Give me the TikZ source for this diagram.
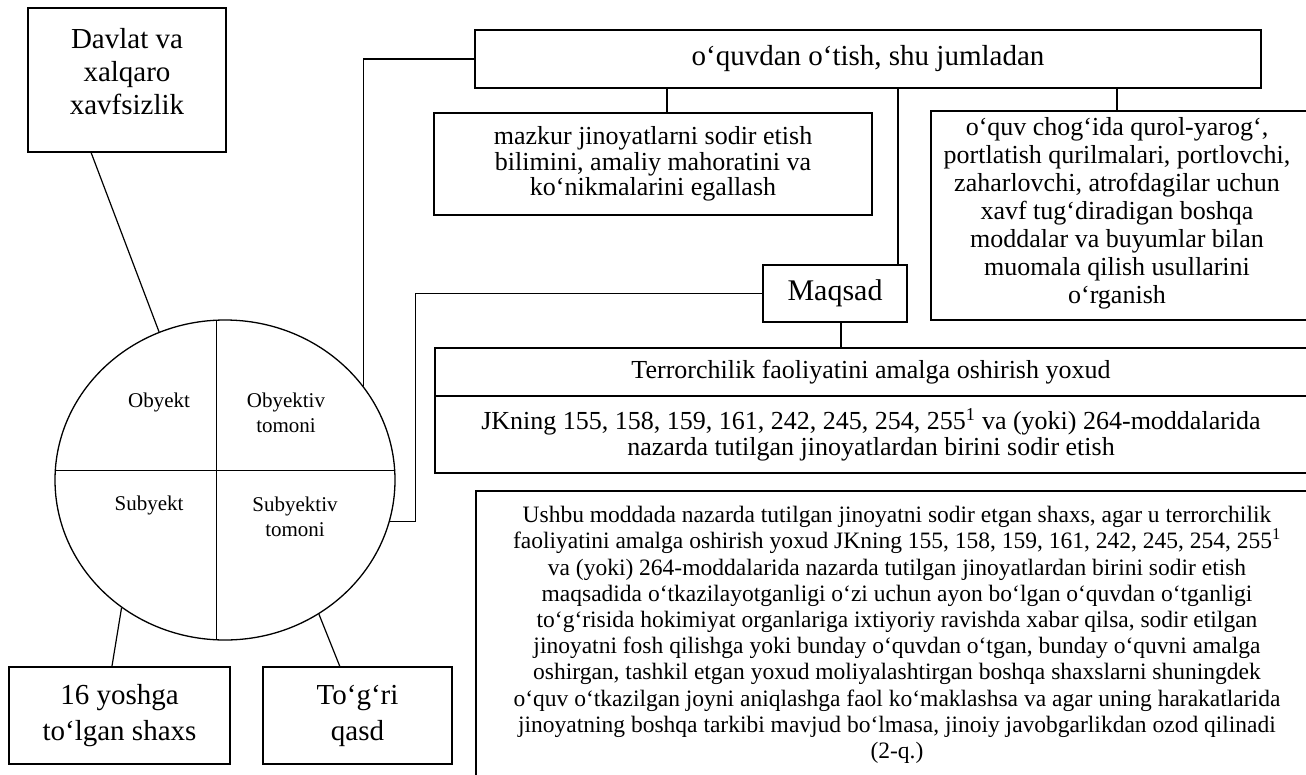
\documentclass[tikz,border=0pt]{standalone}
\usepackage{fontspec}
\setmainfont{Liberation Serif}
\usetikzlibrary{shapes.geometric,calc}
\begin{document}
\begin{tikzpicture}[x=1pt,y=-1pt,line width=1.2pt,
  box/.style={draw,rectangle,inner sep=0pt,line width=1.3pt},
  txt/.style={align=center,inner sep=0pt},
  conn/.style={draw,line width=1.2pt}]
\useasboundingbox (0,0) rectangle (1306,774);
\fill[white] (0,0) rectangle (1306,774);

% left part
\node[box,minimum width=198pt,minimum height=144pt] (davlat) at (127,80) {};
\node[txt,font=\fontsize{29}{33}\selectfont] (davlatT) at (127,72) {Davlat va\\xalqaro\\xavfsizlik};

\node[draw,ellipse,line width=1.3pt,minimum width=340pt,minimum height=320pt,inner sep=0pt] (circ) at (225,480) {};
\begin{scope}
  \clip (225,480) ellipse [x radius=170pt,y radius=160pt];
  \draw[line width=1.3pt] (216.7,300) -- (216.7,660);
  \draw[line width=1.3pt] (40,470.7) -- (410,470.7);
\end{scope}
\node[txt,font=\fontsize{21}{25}\selectfont] (obj) at (159,402) {Obyekt};
\node[txt,font=\fontsize{21}{25}\selectfont] (objt) at (286,413) {Obyektiv\\tomoni};
\node[txt,font=\fontsize{21}{25}\selectfont] (sub) at (149,505) {Subyekt};
\node[txt,font=\fontsize{21}{25}\selectfont] (subt) at (295,517) {Subyektiv\\tomoni};

\node[box,minimum width=221pt,minimum height=97pt,align=center,font=\fontsize{29}{36}\selectfont] (age) at (119.5,715.5) {16 yoshga\\to‘lgan shaxs};
\node[box,minimum width=189pt,minimum height=97pt,align=center,font=\fontsize{29}{36}\selectfont] (qasd) at (357.5,715.5) {To‘g‘ri\\qasd};

% right part
\node[box,minimum width=786pt,minimum height=58pt,font=\fontsize{29}{33}\selectfont] (oquv) at (868,59) {o‘quvdan o‘tish, shu jumladan};

\node[box,minimum width=438pt,minimum height=102pt,align=center,font=\fontsize{26}{25.5}\selectfont] (mazkur) at (653,164) {mazkur jinoyatlarni sodir etish\\bilimini, amaliy mahoratini va\\ko‘nikmalarini egallash};

\node[box,minimum width=376pt,minimum height=209pt] (rbox) at (1119,215.5) {};
\node[txt,font=\fontsize{26}{28}\selectfont] (rboxT) at (1117,213) {o‘quv chog‘ida qurol-yarog‘,\\portlatish qurilmalari, portlovchi,\\zaharlovchi, atrofdagilar uchun\\xavf tug‘diradigan boshqa\\moddalar va buyumlar bilan\\muomala qilish usullarini\\o‘rganish};

\node[box,minimum width=144pt,minimum height=57pt,font=\fontsize{30}{34}\selectfont] (maqsad) at (835,293.5) {Maqsad};

\node[box,minimum width=872pt,minimum height=48pt,font=\fontsize{26}{26}\selectfont] (terA) at (871,372) {Terrorchilik faoliyatini amalga oshirish yoxud};
\node[box,minimum width=872pt,minimum height=77pt,align=center,font=\fontsize{26}{26}\selectfont] (terB) at (871,434.5) {JKning 155, 158, 159, 161, 242, 245, 254, 255\textsuperscript{1} va (yoki) 264-moddalarida\\nazarda tutilgan jinoyatlardan birini sodir etish};

\node[box,minimum width=842pt,minimum height=309pt] (ushbu) at (897,645.5) {};
\node[txt,font=\fontsize{23.5}{26.2}\selectfont] (ushbuT) at (897,635) {Ushbu moddada nazarda tutilgan jinoyatni sodir etgan shaxs, agar u terrorchilik\\faoliyatini amalga oshirish yoxud JKning 155, 158, 159, 161, 242, 245, 254, 255\textsuperscript{1}\\va (yoki) 264-moddalarida nazarda tutilgan jinoyatlardan birini sodir etish\\maqsadida o‘tkazilayotganligi o‘zi uchun ayon bo‘lgan o‘quvdan o‘tganligi\\to‘g‘risida hokimiyat organlariga ixtiyoriy ravishda xabar qilsa, sodir etilgan\\jinoyatni fosh qilishga yoki bunday o‘quvdan o‘tgan, bunday o‘quvni amalga\\oshirgan, tashkil etgan yoxud moliyalashtirgan boshqa shaxslarni shuningdek\\o‘quv o‘tkazilgan joyni aniqlashga faol ko‘maklashsa va agar uning harakatlarida\\jinoyatning boshqa tarkibi mavjud bo‘lmasa, jinoiy javobgarlikdan ozod qilinadi\\(2-q.)};

% connectors
\draw[conn] ($(davlat.south west)!0.32!(davlat.south east)$) -- (circ.114.8);
\draw[conn] (circ.231.4) -- ($(age.north west)!0.466!(age.north east)$);
\draw[conn] (circ.-55.2) -- ($(qasd.north west)!0.407!(qasd.north east)$);
\draw[conn] (circ.34.1) |- (oquv.west);
\draw[conn] (circ.-14.3) -- ++(25.3,0) |- (maqsad.west);
\draw[conn] ([xshift=14pt]mazkur.north) -- ([xshift=14pt]mazkur.north |- oquv.south);
\draw[conn] ([xshift=63pt]maqsad.north) -- ([xshift=63pt]maqsad.north |- oquv.south);
\draw[conn] ([xshift=-2pt]rbox.north) -- ([xshift=-2pt]rbox.north |- oquv.south);
\draw[conn] ([xshift=6pt]maqsad.south) -- ([xshift=6pt]maqsad.south |- terA.north);
\end{tikzpicture}
\end{document}
